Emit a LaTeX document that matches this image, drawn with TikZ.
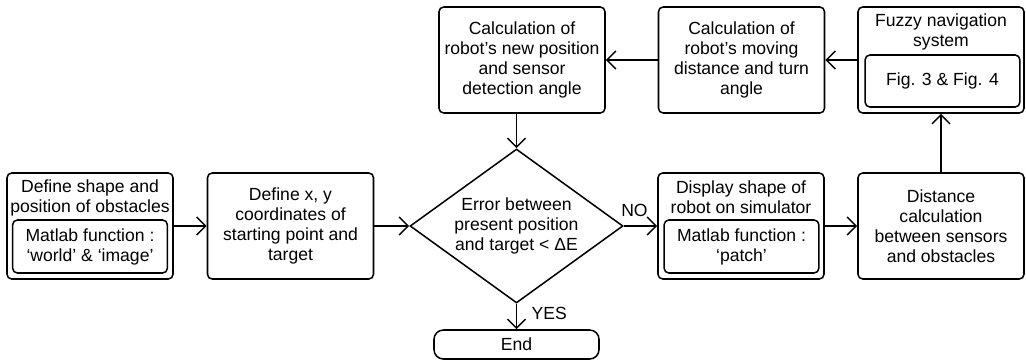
\documentclass[tikz,border=0pt]{standalone}
\usepackage{fontspec}
\setmainfont{Liberation Sans}
\usetikzlibrary{shapes.geometric,arrows.meta}

\begin{document}
\begin{tikzpicture}[x=0.3mm,y=-0.3mm,line width=1.3pt,
    font=\fontsize{15}{17}\selectfont,
    inbox/.style={draw,rounded corners=4pt,align=center,inner sep=0pt,
      minimum width=46.4mm,minimum height=15.9mm}]

        \useasboundingbox (0,0) rectangle (1026,361);

        \begin{scope}[every node/.style={draw,rounded corners=4pt,align=center,inner sep=0pt,
            minimum width=49.8mm,minimum height=31.8mm}]
          \node (def)    at (90,226)    {};
          \node (xy)     at (290.5,226) {Define x, y\\coordinates of\\starting point and\\target};
          \node (disp)   at (741,226)   {};
          \node (dist)   at (941,226)   {Distance\\calculation\\between sensors\\and obstacles};
          \node (newpos) at (522,60)    {Calculation of\\robot’s new position\\and sensor\\detection angle};
          \node (move)   at (741.5,60)  {Calculation of\\robot’s moving\\distance and turn\\angle};
          \node (fuzzy)  at (941,60)    {};
        \end{scope}

        \node[align=center] (deftitle)   at (90,197.5)  {Define shape and\\position of obstacles};
        \node[align=center] (disptitle)  at (741,197.5) {Display shape of\\robot on simulator};
        \node[align=center] (fuzzytitle) at (941,32)    {Fuzzy navigation\\system};

        \node[inbox] (defin)   at (90,246.5)  {Matlab function :\\‘world’ \& ‘image’};
        \node[inbox] (dispin)  at (741.5,246.5) {Matlab function :\\‘patch’};
        \node[inbox,minimum height=15.6mm] (fuzzyin) at (942.5,81) {Fig. 3 \& Fig. 4};

        \node[diamond,draw,aspect=1.38,inner sep=0pt,align=center,
          minimum width=63.9mm,minimum height=46.2mm] (err) at (516.5,226)
          {Error between\\present position\\and target < ΔE};
        \node[draw,rounded corners=8pt,minimum width=49.5mm,minimum height=8.7mm] (end) at (516.5,344.5) {End};

        \begin{scope}[every edge/.style={draw,-{Straight Barb[length=2.7mm,width=5.4mm]}}]
          \path (def)    edge (xy);
          \path (xy)     edge (err);
          \path (err)    edge node[pos=0.32,above=4pt] (no) {NO} (disp);
          \path (err)    edge node[pos=0.38,right=9pt] (yes) {YES} (end);
          \path (disp)   edge (dist);
          \path (dist)   edge (fuzzy);
          \path (fuzzy)  edge (move);
          \path (move)   edge (newpos);
          \path (newpos.south -| err.north) edge (err.north);
        \end{scope}

      \end{tikzpicture}
\end{document}
